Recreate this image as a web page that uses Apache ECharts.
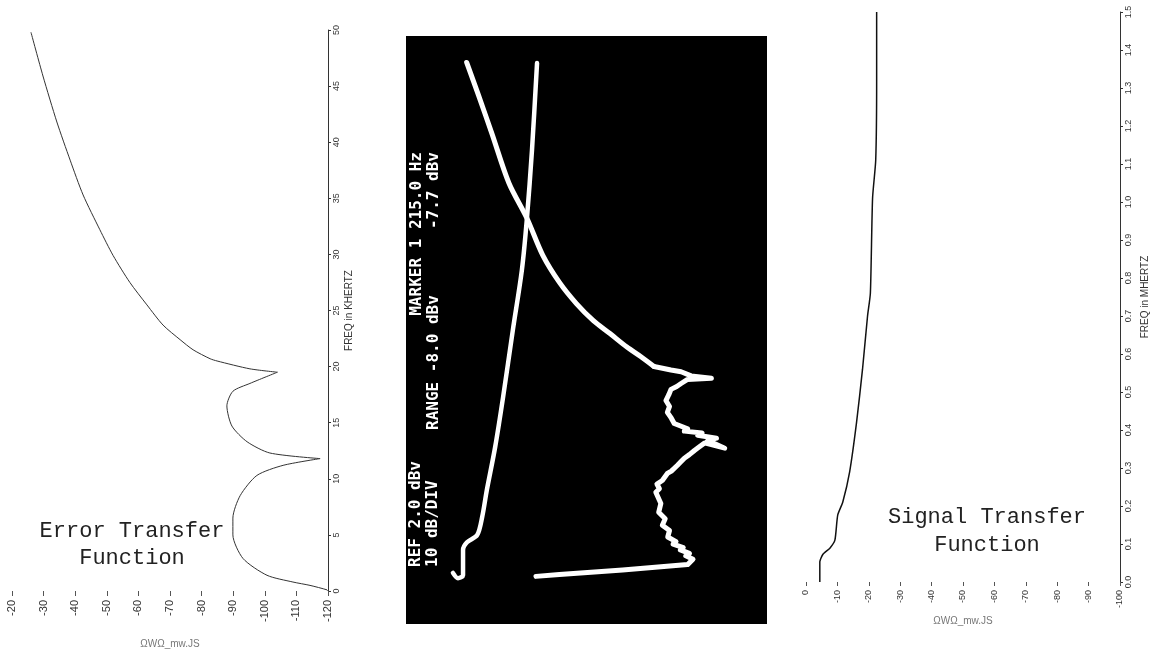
<!DOCTYPE html>
<html>
<head>
<meta charset="utf-8">
<script src="https://cdn.jsdelivr.net/npm/echarts@6/dist/echarts.min.js"></script>
<style>
html,body{margin:0;padding:0;background:#fff;}
#chart{width:1151px;height:654px;}
</style>
</head>
<body>
<div id="chart"></div>
<script>
// ---- Left panel: Error Transfer Function (freq kHz vs dB) ----
const errFreqKHz = [49.8, 45.9, 41.8, 38.4, 35.3, 32.2, 29.9, 27.5, 25.5, 23.7, 22.4, 21.5, 20.7, 20.5, 19.8, 19.5, 18.5, 17.8, 16.5, 14.7, 13.3, 12.3, 11.8, 11.2, 10.3, 8.5, 6.5, 5.0, 2.9, 1.4, 0.8, 0.5, 0.1, 0.0];
const errDb      = [-26.0, -29.8, -34.2, -38.4, -42.5, -47.8, -52.0, -57.3, -62.7, -67.8, -73.2, -77.3, -82.7, -84.9, -95.3, -104.0, -95.3, -89.9, -88.0, -89.6, -94.4, -101.6, -117.5, -105.8, -97.5, -92.2, -89.9, -89.9, -93.1, -100.7, -108.9, -114.3, -119.7, -120.0];
const errNotchIdx = [15, 22];
const errAxisDb   = [-120, -20];
const errAxisFreq = [0, 50];
const errMarkFreq = [0, 4.5];
const errMarkDb   = -18.7;

// ---- Middle panel: spectrum analyser photograph (amplitude units, frequency units) ----
const traceAAmp  = [13.0, 14.4, 15.8, 15.8, 16.9, 19.7, 21.1, 22.4, 24.7, 26.9, 29.6, 32.1, 33.5, 34.9, 36.3];
const traceAFreq = [8.7, 7.8, 8.3, 12.6, 13.9, 15.1, 18.2, 22.8, 30.1, 38.6, 50.0, 60.2, 69.0, 80.6, 95.4];
const traceBAmp  = [36.0, 42.5, 60.0, 78.0, 79.5, 77.5, 78.5, 76.0, 76.8, 74.0, 74.8, 72.5, 73.0, 71.0, 71.8, 70.0, 70.6, 69.2, 70.2, 69.5, 71.0, 72.4, 73.5, 75.2, 76.0, 77.1, 78.5, 79.9, 81.0, 82.7, 88.3, 83.6, 86.0, 80.8, 82.0, 77.1, 78.0, 74.3, 73.5, 72.4, 73.0, 72.0, 72.8, 73.4, 75.0, 76.2, 78.0, 84.6, 79.0, 76.2, 73.4, 68.7, 65.0, 61.2, 56.5, 51.9, 47.2, 42.5, 37.9, 33.5, 28.5, 23.8, 20.1, 16.8];
const traceBFreq = [8.1, 8.4, 9.2, 10.1, 11.0, 11.6, 12.0, 12.6, 13.0, 13.6, 14.0, 14.8, 15.9, 16.8, 17.9, 19.0, 20.5, 22.4, 23.0, 23.8, 24.4, 25.6, 26.0, 27.0, 27.5, 28.2, 28.8, 29.5, 30.0, 30.8, 29.9, 31.2, 31.6, 32.1, 32.5, 32.8, 33.2, 34.1, 35.0, 36.0, 37.0, 38.0, 39.0, 39.9, 40.4, 40.9, 41.6, 41.8, 42.2, 42.9, 43.2, 43.8, 45.5, 47.1, 49.4, 51.6, 54.5, 58.1, 62.7, 69.0, 75.0, 83.4, 89.9, 95.5];
const traceBNoisyEnd = 52;
const screenText = {
  ref: 'REF 2.0 dBv',
  div: '10 dB/DIV',
  range: 'RANGE -8.0 dBv',
  marker: 'MARKER 1 215.0 Hz',
  markerVal: '-7.7 dBv'
};

// ---- Right panel: Signal Transfer Function (freq MHz vs dB) ----
const sigFreqMHz = [0.0, 0.053, 0.073, 0.089, 0.11, 0.176, 0.21, 0.29, 0.42, 0.56, 0.70, 0.76, 1.01, 1.11, 1.32, 1.50];
const sigDb      = [-4.4, -4.4, -5.4, -7.6, -9.2, -10.1, -11.7, -13.9, -16.1, -18.0, -19.6, -20.5, -21.2, -22.2, -22.5, -22.5];
const sigAxisDb   = [-100, 0];
const sigAxisFreq = [0, 1.5];

const magAxisTitle = 'ΩWΩ_mw.JS';

const pairs = (xs, ys) => xs.map((x, i) => [x, ys[i]]);
const traceB = pairs(traceBAmp, traceBFreq);
const errPts = pairs(errDb, errFreqKHz);
const errCuts = [0].concat(errNotchIdx, [errPts.length - 1]);
const errSeries = errCuts.slice(0, -1).map((start, k) => ({
  type: 'line', xAxisIndex: 0, yAxisIndex: 0, data: errPts.slice(start, errCuts[k + 1] + 1),
  symbol: 'none', smooth: 0.25, lineStyle: {color: '#333', width: 1}
}));

const chart = echarts.init(document.getElementById('chart'), null, {renderer: 'canvas'});
const sans = 'Liberation Sans, Arial, sans-serif';
const monoFont = 'Liberation Mono, DejaVu Sans Mono, monospace';
const screenFont = 'bold 16px DejaVu Sans Mono, monospace';

chart.setOption({
  backgroundColor: '#fff',
  animation: false,
  grid: [
    {left: 12, right: 823, top: 30, bottom: 62},
    {left: 406, right: 384, top: 36, bottom: 30, show: true, backgroundColor: '#000', borderWidth: 0},
    {left: 806, right: 29, top: 12, bottom: 72}
  ],
  xAxis: [
    {gridIndex: 0, type: 'value', min: errAxisDb[0], max: errAxisDb[1], interval: 10, inverse: true,
     axisLine: {show: false, onZero: false}, axisTick: {show: true, length: 5, lineStyle: {color: '#555'}},
     axisLabel: {rotate: 90, margin: 9, fontFamily: sans, fontSize: 11, color: '#333'}, splitLine: {show: false},
     name: magAxisTitle, nameLocation: 'middle', nameGap: 48,
     nameTextStyle: {fontFamily: sans, fontSize: 10, color: '#777'}},
    {gridIndex: 1, type: 'value', min: 0, max: 100, show: false},
    {gridIndex: 2, type: 'value', min: sigAxisDb[0], max: sigAxisDb[1], interval: 10, inverse: true,
     axisLine: {show: false, onZero: false}, axisTick: {show: true, length: 4, lineStyle: {color: '#555'}},
     axisLabel: {rotate: 90, margin: 8, fontFamily: sans, fontSize: 9, color: '#333'}, splitLine: {show: false},
     name: magAxisTitle, nameLocation: 'middle', nameGap: 31,
     nameTextStyle: {fontFamily: sans, fontSize: 10, color: '#777'}}
  ],
  yAxis: [
    {gridIndex: 0, type: 'value', position: 'right', min: errAxisFreq[0], max: errAxisFreq[1], interval: 5,
     axisLine: {show: true, onZero: false, lineStyle: {color: '#333', width: 1}}, axisTick: {show: true, length: 3, lineStyle: {color: '#333'}},
     axisLabel: {rotate: 90, margin: 4, fontFamily: sans, fontSize: 9, color: '#333'}, splitLine: {show: false},
     name: 'FREQ in KHERTZ', nameLocation: 'middle', nameRotate: 90, nameGap: 16,
     nameTextStyle: {fontFamily: sans, fontSize: 10, color: '#333'}},
    {gridIndex: 1, type: 'value', min: 0, max: 100, show: false},
    {gridIndex: 2, type: 'value', position: 'right', min: sigAxisFreq[0], max: sigAxisFreq[1], interval: 0.1,
     axisLine: {show: true, onZero: false, lineStyle: {color: '#333', width: 1}}, axisTick: {show: true, length: 3, lineStyle: {color: '#333'}},
     axisLabel: {rotate: 90, margin: 4, formatter: v => v.toFixed(1), fontFamily: sans, fontSize: 9, color: '#333'}, splitLine: {show: false},
     name: 'FREQ in MHERTZ', nameLocation: 'middle', nameRotate: 90, nameGap: 20,
     nameTextStyle: {fontFamily: sans, fontSize: 10, color: '#333'}}
  ],
  series: errSeries.concat([
    {type: 'line', xAxisIndex: 0, yAxisIndex: 0, clip: false, data: errMarkFreq.map(f => [errMarkDb, f]), symbol: 'none',
     lineStyle: {color: '#222', width: 1.5}},
    {type: 'line', xAxisIndex: 1, yAxisIndex: 1, data: pairs(traceAAmp, traceAFreq), symbol: 'none', smooth: 0.3,
     lineStyle: {color: '#fff', width: 4.5, cap: 'round', join: 'round'}},
    {type: 'line', xAxisIndex: 1, yAxisIndex: 1, data: traceB.slice(0, traceBNoisyEnd), symbol: 'none',
     lineStyle: {color: '#fff', width: 5, cap: 'round', join: 'round'}},
    {type: 'line', xAxisIndex: 1, yAxisIndex: 1, data: traceB.slice(traceBNoisyEnd - 1), symbol: 'none', smooth: 0.3,
     lineStyle: {color: '#fff', width: 5, cap: 'round', join: 'round'}},
    {type: 'line', xAxisIndex: 2, yAxisIndex: 2, data: pairs(sigDb, sigFreqMHz), symbol: 'none', smooth: 0.2,
     lineStyle: {color: '#111', width: 1.5}}
  ]),
  graphic: [
    {type: 'text', x: 132, y: 545, style: {text: 'Error Transfer\nFunction', font: '22px ' + monoFont,
      fill: '#222', textAlign: 'center', textVerticalAlign: 'middle', lineHeight: 27}},
    {type: 'text', x: 987, y: 531, style: {text: 'Signal Transfer\nFunction', font: '22px ' + monoFont,
      fill: '#222', textAlign: 'center', textVerticalAlign: 'middle', lineHeight: 28}},
    {type: 'text', x: 416, y: 567, rotation: Math.PI / 2, style: {text: screenText.ref, font: screenFont,
      fill: '#fff', textAlign: 'left', textVerticalAlign: 'middle'}},
    {type: 'text', x: 433, y: 567, rotation: Math.PI / 2, style: {text: screenText.div, font: screenFont,
      fill: '#fff', textAlign: 'left', textVerticalAlign: 'middle'}},
    {type: 'text', x: 434, y: 430, rotation: Math.PI / 2, style: {text: screenText.range, font: screenFont,
      fill: '#fff', textAlign: 'left', textVerticalAlign: 'middle'}},
    {type: 'text', x: 417, y: 152, rotation: Math.PI / 2, style: {text: screenText.marker, font: screenFont,
      fill: '#fff', textAlign: 'right', textVerticalAlign: 'middle'}},
    {type: 'text', x: 434, y: 152, rotation: Math.PI / 2, style: {text: screenText.markerVal, font: screenFont,
      fill: '#fff', textAlign: 'right', textVerticalAlign: 'middle'}}
  ]
});
</script>
</body>
</html>
